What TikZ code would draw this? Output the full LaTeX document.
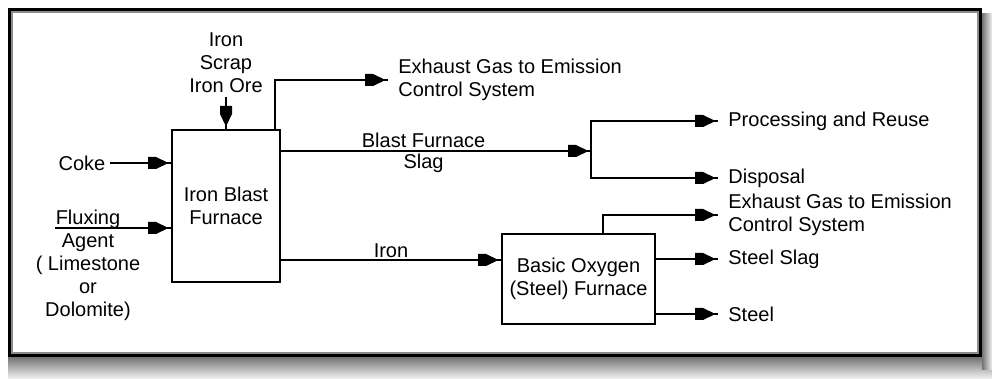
\documentclass[tikz,border=0pt]{standalone}
\usepackage{fontspec}
\setmainfont{Liberation Sans}
\usetikzlibrary{positioning, decorations.markings}

\begin{document}
\begin{tikzpicture}[
    x=0.5pt, y=-0.5pt,
    font=\fontsize{10}{11.5}\selectfont,
    box/.style={draw, rectangle, align=center, line width=1pt, inner sep=2pt},
    lbl/.style={align=center, inner sep=2pt},
    outlbl/.style={anchor=west, align=left, inner xsep=5pt, inner ysep=1pt},
    flow/.style={line width=1pt, postaction={decorate},
        decoration={markings, mark=at position -2.5pt with {
            \fill (-9pt,-3pt) -- (-5pt,-3pt) -- (0pt,-0.6pt) -- (0pt,0.6pt)
                  -- (-5pt,3pt) -- (-9pt,3pt) -- cycle;}}}
]
\useasboundingbox (0,0) rectangle (992,379);

% Marco y sombra
\shade[top color=black!55, bottom color=black!4] (8,357) rectangle (992,379);
\shade[left color=black!55, right color=black!6] (982,14) rectangle (992,370);
\fill[white] (9.5,9.5) rectangle (980.5,356);
\draw[line width=1.5pt] (9.5,9.5) rectangle (980.5,356);
\draw[black!45, line width=1pt] (12,12) rectangle (978,353);

% Hornos
\node (ibf) [box, minimum width=54pt, minimum height=76pt] at (226,206) {Iron Blast\\Furnace};
\node (bof) [box, minimum width=76.5pt, minimum height=45pt] at (578.5,279) {Basic Oxygen\\(Steel) Furnace};

% Entradas
\node (ore) [lbl, above=16pt of ibf] {Iron\\Scrap\\Iron Ore};
\node (coke) [lbl] at (82,163) {Coke};
\node (flux) [lbl] at (88,265) {Fluxing\\Agent\\( Limestone\\or\\Dolomite)};
\coordinate (fluxin) at (55,228);
\coordinate (split) at (591,151);

% Salidas
\node (exh1) [outlbl] at (388,80) {Exhaust Gas to Emission\\Control System};
\node (reuse) [outlbl] at (718,121) {Processing and Reuse};
\node (disp) [outlbl] at (718,178) {Disposal};
\node (exh2) [outlbl] at (718,215) {Exhaust Gas to Emission\\Control System};
\node (slag) [outlbl] at (718,259) {Steel Slag};
\node (steel) [outlbl] at (718,314) {Steel};

% Flechas
\draw [flow] (ore.south) -- (ore.south |- ibf.north);
\draw [flow] (coke) -- (coke -| ibf.west);
\draw [flow] (fluxin) -- (fluxin -| ibf.west);
\draw [flow] ([xshift=-3pt]ibf.north east) |- (exh1.west);
\draw [flow] (split -| ibf.east) -- node[pos=0.46, above, inner sep=1pt] {Blast Furnace}
    node[pos=0.46, below, inner sep=1pt] {Slag} (split);
\draw [flow] (split) |- (reuse.west);
\draw [flow] (split) |- (disp.west);
\draw [flow] ([yshift=-27pt]ibf.east) -- node[above, inner sep=0.5pt] {Iron} ([yshift=-27pt]ibf.east -| bof.west);
\draw [flow] ([xshift=12pt]bof.north) |- (exh2.west);
\draw [flow] (slag.west -| bof.east) -- (slag.west);
\draw [flow] (steel.west -| bof.east) -- (steel.west);

\end{tikzpicture}
\end{document}
